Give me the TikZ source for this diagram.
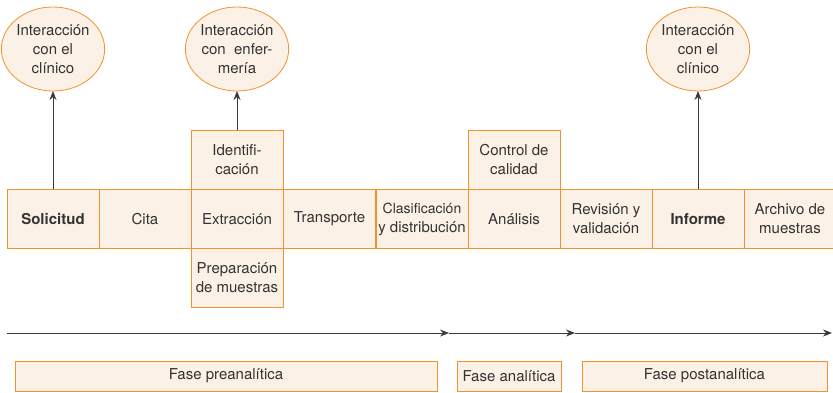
\documentclass[tikz,border=0pt]{standalone}
\usepackage{fontspec}
\setmainfont{TeX Gyre Heros}
\usetikzlibrary{arrows.meta,shapes.geometric}
\definecolor{naranja}{HTML}{F2922F}
\definecolor{crema}{HTML}{FCF1E6}
\definecolor{texto}{HTML}{333333}
\definecolor{flecha}{HTML}{3A3A3A}

\begin{document}
\begin{tikzpicture}[x=1pt,y=-1pt,
        every node/.style={font=\fontsize{15}{19}\selectfont,text=texto,align=center,inner sep=0pt,outer sep=0pt},
        caja/.style={draw=naranja,fill=crema,line width=1pt,minimum width=92pt,minimum height=59pt},
        fase/.style={draw=naranja,fill=crema,line width=0.8pt,minimum height=30pt},
        globo/.style={ellipse,draw=naranja,fill=crema,line width=0.8pt,minimum width=90pt,minimum height=84pt},
        flechita/.style={draw=flecha,line width=0.9pt,-{Stealth[length=9pt,width=7pt]}}]
        \useasboundingbox (0,0) rectangle (833,393);

        \coordinate (A) at (53,219);
        \coordinate (B) at (145,219);
        \coordinate (C) at (237,219);
        \coordinate (D) at (329.5,219);
        \coordinate (E) at (422,219);
        \coordinate (F) at (514,219);
        \coordinate (G) at (606,219);
        \coordinate (H) at (698,219);
        \coordinate (I) at (790,219);

        % fila principal
        \node[caja] (solicitud)     at (A) {\bfseries Solicitud};
        \node[caja] (cita)          at (B) {Cita};
        \node[caja] (extraccion)    at (C) {Extracción};
        \node[caja] (transporte)    at (D) {Transporte};
        \node[caja] (clasificacion) at (E) {\fontsize{14}{19}\selectfont Clasificación\\y distribución};
        \node[caja] (analisis)      at (F) {Análisis};
        \node[caja] (revision)      at (G) {Revisión y\\validación};
        \node[caja] (informe)       at (H) {\bfseries Informe};
        \node[caja] (archivo)       at (I) {Archivo de\\muestras};

        \node[caja,anchor=south] (identificacion) at (extraccion.north) {Identifi-\\cación};
        \node[caja,anchor=north] (preparacion)    at (extraccion.south) {Preparación\\de muestras};
        \node[caja,anchor=south] (control)        at (analisis.north)   {Control de\\calidad};

        % interacciones
        \node[globo] (clinicoA)   at (53,49)  {Interacción\\con el\\clínico};
        \node[globo] (enfermeria) at (237,49) {Interacción\\con\ \ enfer-\\mería};
        \node[globo] (clinicoB)   at (698,49) {Interacción\\con el\\clínico};

        \draw[flechita] (solicitud.north)      -- (clinicoA.south);
        \draw[flechita] (identificacion.north) -- (enfermeria.south);
        \draw[flechita] (informe.north)        -- (clinicoB.south);

        % linea de tiempo
        \coordinate (t0) at (7,333);
        \coordinate (t1) at (449,333);
        \coordinate (t2) at (575,333);
        \coordinate (t3) at (832,333);

        \draw[flechita] (t0) -- (t1);
        \draw[flechita] (t1) -- (t2);
        \draw[flechita] (t2) -- (t3);

        % fases
        \node[fase,minimum width=422pt] (pre)  at (226,376)   {Fase preanalítica};
        \node[fase,minimum width=104pt] (ana)  at (509,376)   {Fase analítica};
        \node[fase,minimum width=245pt] (post) at (704.5,376) {Fase postanalítica};
    \end{tikzpicture}
\end{document}
